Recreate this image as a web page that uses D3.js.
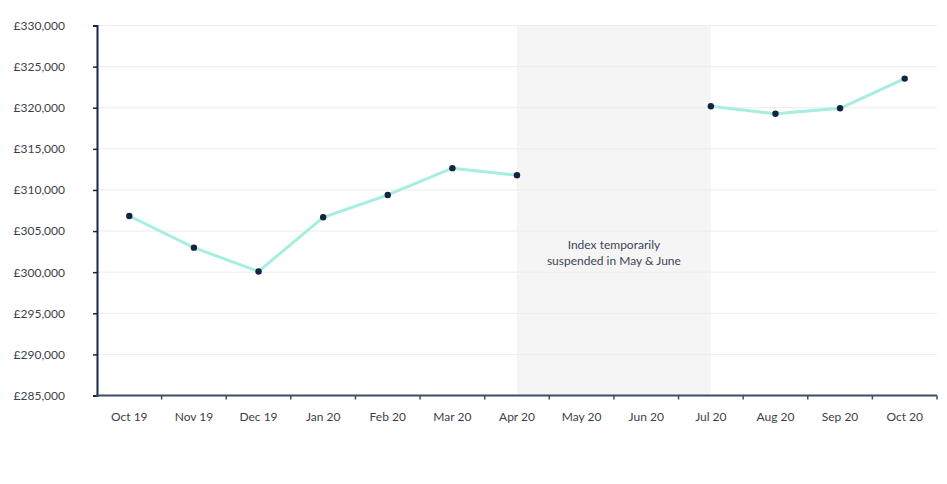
<!DOCTYPE html>
<html>
<head>
<meta charset="utf-8">
<script src="https://cdn.jsdelivr.net/npm/d3@7"></script>
<style>
  html, body { margin: 0; padding: 0; background: #ffffff; }
  svg { display: block; }
  text { font-family: Lato, "Open Sans", sans-serif; }
</style>
</head>
<body>
<svg id="chart" width="947" height="484"></svg>
<script>
// ---- data ----
const months = ["Oct 19","Nov 19","Dec 19","Jan 20","Feb 20","Mar 20","Apr 20","May 20","Jun 20","Jul 20","Aug 20","Sep 20","Oct 20"];
const prices = [306830, 302980, 300090, 306670, 309390, 312650, 311790, null, null, 320170, 319270, 319930, 323540];
const yTicks = [285000, 290000, 295000, 300000, 305000, 310000, 315000, 320000, 325000, 330000];
const suspendedFrom = "Apr 20";
const suspendedTo = "Jul 20";
const noteLines = ["Index temporarily", "suspended in May & June"];

// ---- layout ----
const svg = d3.select("#chart");
const mLeft = 97, mRight = 937, mTop = 25.5, mBottom = 395.5;

const x = d3.scaleBand().domain(months).range([mLeft, mRight]).padding(0);
const cx = m => x(m) + x.bandwidth() / 2;
const y = d3.scaleLinear().domain([285000, 330000]).range([mBottom, mTop]);

// suspended band
svg.append("rect")
  .attr("x", cx(suspendedFrom))
  .attr("y", y(330000))
  .attr("width", cx(suspendedTo) - cx(suspendedFrom))
  .attr("height", y(285000) - y(330000))
  .attr("fill", "#f5f5f5");

// gridlines
svg.append("g").selectAll("line").data(yTicks.slice(1)).join("line")
  .attr("x1", mLeft).attr("x2", mRight)
  .attr("y1", d => y(d)).attr("y2", d => y(d))
  .attr("stroke", "#ececec").attr("stroke-width", 1);

// note text
const noteX = (cx(suspendedFrom) + cx(suspendedTo)) / 2;
svg.append("text")
  .attr("x", noteX)
  .attr("y", 249)
  .attr("text-anchor", "middle")
  .attr("font-size", 12)
  .attr("fill", "#3b4556")
  .selectAll("tspan").data(noteLines).join("tspan")
  .attr("x", noteX)
  .attr("dy", (d, i) => i === 0 ? 0 : 16)
  .text(d => d);

// y axis
const yAxis = d3.axisLeft(y).tickValues(yTicks).tickSize(4).tickPadding(28)
  .tickFormat(d => "£" + d3.format(",")(d));
const gy = svg.append("g").attr("transform", `translate(${mLeft},0)`).call(yAxis);
gy.select(".domain").attr("stroke", "#15264a").attr("stroke-width", 2);
gy.selectAll(".tick line").attr("stroke", "#15264a").attr("stroke-width", 1.5);
gy.selectAll(".tick text").attr("font-size", 12).attr("fill", "#3a3f4a")
  .attr("font-family", "Lato, sans-serif");

// x axis (ticks at band boundaries)
const xb = d3.scaleLinear().domain([0, months.length]).range([mLeft, mRight]);
const gx = svg.append("g").attr("transform", `translate(0,${mBottom})`);
gx.append("line").attr("x1", mLeft - 1).attr("x2", mRight)
  .attr("stroke", "#3d4d68").attr("stroke-width", 2);
gx.selectAll("line.tk").data(d3.range(1, months.length + 1)).join("line")
  .attr("class", "tk")
  .attr("x1", d => xb(d)).attr("x2", d => xb(d))
  .attr("y1", 0).attr("y2", 4)
  .attr("stroke", "#3d4d68").attr("stroke-width", 1.5);
gx.selectAll("text").data(months).join("text")
  .attr("x", d => cx(d)).attr("y", 25)
  .attr("text-anchor", "middle")
  .attr("font-size", 12).attr("fill", "#3a3f4a")
  .text(d => d);

// line
const line = d3.line()
  .defined((d, i) => prices[i] !== null)
  .x((d, i) => cx(months[i]))
  .y((d, i) => y(prices[i]));
svg.append("path")
  .datum(prices)
  .attr("d", line)
  .attr("fill", "none")
  .attr("stroke", "#a6eedf")
  .attr("stroke-width", 3)
  .attr("stroke-linejoin", "round");

// points
svg.append("g").selectAll("circle")
  .data(months.map((m, i) => ({m, v: prices[i]})).filter(d => d.v !== null))
  .join("circle")
  .attr("cx", d => cx(d.m))
  .attr("cy", d => y(d.v))
  .attr("r", 3.2)
  .attr("fill", "#13243f");
</script>
</body>
</html>
